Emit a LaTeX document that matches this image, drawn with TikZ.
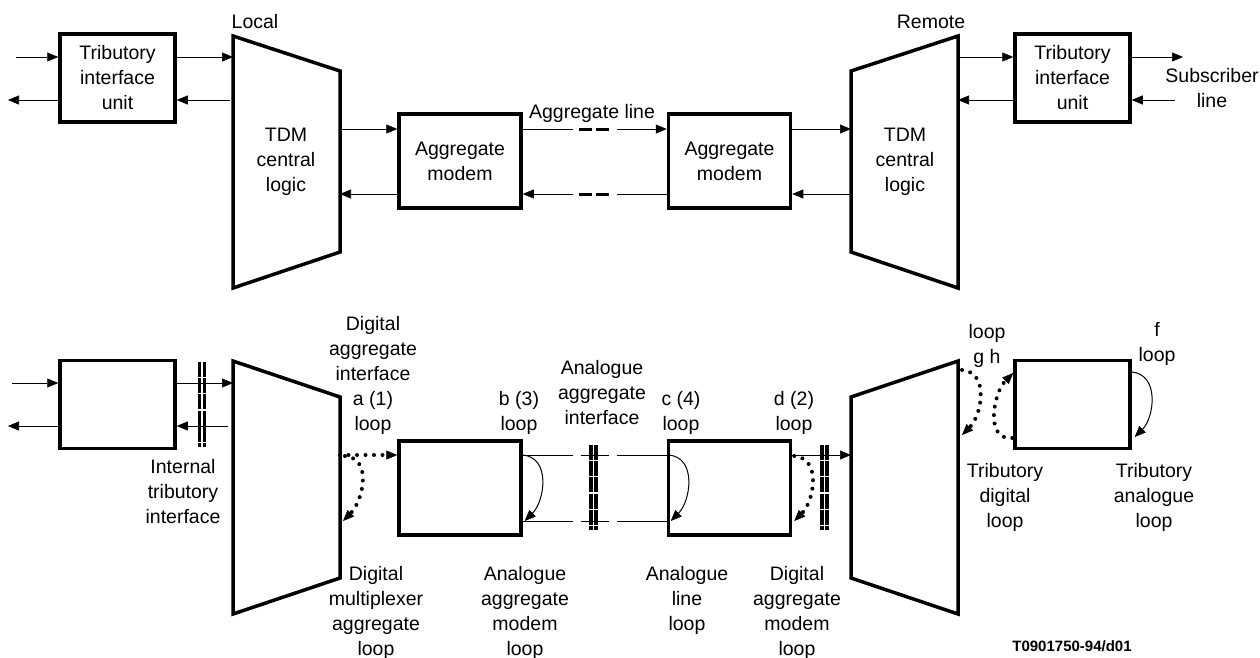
\documentclass[tikz,border=0pt]{standalone}
\usepackage{fontspec}
\setmainfont{Liberation Sans}
\usetikzlibrary{calc,arrows.meta}
\tikzset{
  >={Triangle[length=11pt,width=9pt,line width=0.6pt]},
  every node/.style={font=\fontsize{19.5}{25}\selectfont, align=center, inner sep=0pt},
  % --- nodes
  unit/.style  = {draw, line width=3.5pt, minimum width=115pt, minimum height=88pt},
  modem/.style = {unit, minimum width=122pt, minimum height=94pt},
  tag/.style   = {font=\fontsize{15}{18}\selectfont\bfseries},
  % --- shapes
  blk/.style   = {draw, line width=3.5pt, line join=miter},
  cut/.style   = {line width=3.4pt, dash pattern=on 15pt off 1.2pt},
  % --- edges
  ln/.style    = {line width=1pt},
  e/.style     = {->, ln},
  dots/.style  = {line width=4pt, line cap=round, dash pattern=on 0pt off 8.5pt},
  edot/.style  = {->, dots},
  gapdash/.style = {line width=3pt, dash pattern=on 13pt off 4pt},
  hook/.style  = {out=-5, in=45, looseness=1.1},
  hookback/.style = {out=185, in=225, looseness=1.1},
}
\begin{document}
\begin{tikzpicture}[x=1pt,y=-1pt]
\useasboundingbox (0,0) rectangle (1260,657);

% --- top row
\node[unit]  (tiuA)   at (117.5,78)  {Tributory\\interface\\unit};
\node[modem] (modemA) at (460,161)   {Aggregate\\modem};
\node[modem] (modemB) at (729.5,161) {Aggregate\\modem};
\node[unit]  (tiuB)   at (1072.5,78) {Tributory\\interface\\unit};

\draw[blk] (233,36) coordinate (ltdm-nw) -- (340,71) coordinate (ltdm-ne)
  -- (340,252) -- (233,288) -- cycle;
\draw[blk] (851,71) coordinate (rtdm-nw) -- (958,36) coordinate (rtdm-ne)
  -- (958,288) -- (851,252) -- cycle;
\node (ltdmtxt) at (286,162) {TDM\\central\\logic};
\node (rtdmtxt) at (905,162) {TDM\\central\\logic};
\node (local)  at (255,22) {Local};
\node (remote) at (931,22) {Remote};

\coordinate (inA)  at (16,57);
\coordinate (outA) at (8,100);
\coordinate (subOut) at (1183,57);
\coordinate (subIn)  at (1175,100);
\node (sub) at (1212,88.5) {Subscriber\\line};

\draw[e] (inA) -- ([yshift=21pt]tiuA.west);
\draw[e] ([yshift=-22pt]tiuA.west) -- (outA);
\draw[e] ([yshift=21pt]tiuA.east) -- ([yshift=21pt]tiuA.east -| ltdm-nw);
\draw[e] ([xshift=-3pt,yshift=-22pt]tiuA.east -| ltdm-nw) -- ([yshift=-22pt]tiuA.east);
\draw[e] ([yshift=32pt]modemA.west -| ltdm-ne) -- ([yshift=32pt]modemA.west);
\draw[e] ([yshift=-33pt]modemA.west) -- ([yshift=-33pt]modemA.west -| ltdm-ne);

% aggregate line, broken in the middle
\coordinate (mid) at ($(modemA.east)!.5!(modemB.west)$);
\draw[ln] ([yshift=32pt]modemA.east) -- ([xshift=-22pt,yshift=32pt]mid);
\draw[gapdash] ([xshift=-16pt,yshift=32pt]mid) -- ([xshift=15pt,yshift=32pt]mid);
\draw[e] ([xshift=22pt,yshift=32pt]mid) -- ([yshift=32pt]modemB.west);
\draw[ln] ([yshift=-33pt]modemB.west) -- ([xshift=22pt,yshift=-33pt]mid);
\draw[gapdash] ([xshift=-16pt,yshift=-33pt]mid) -- ([xshift=15pt,yshift=-33pt]mid);
\draw[e] ([xshift=-22pt,yshift=-33pt]mid) -- ([yshift=-33pt]modemA.east);
\node (aggline) at (592,113) {Aggregate line};

\draw[e] ([yshift=32pt]modemB.east) -- ([yshift=32pt]modemB.east -| rtdm-nw);
\draw[e] ([yshift=-33pt]modemB.east -| rtdm-nw) -- ([yshift=-33pt]modemB.east);
\draw[e] ([yshift=21pt]tiuB.west -| rtdm-ne) -- ([yshift=21pt]tiuB.west);
\draw[e] ([yshift=-22pt]tiuB.west) -- ([yshift=-22pt]tiuB.west -| rtdm-ne);
\draw[e] ([yshift=21pt]tiuB.east) -- (subOut);
\draw[e] (subIn) -- ([yshift=-22pt]tiuB.east);

% --- bottom row: loops
\node[unit]  (tiuC)   at (117.5,404.5)  {};
\node[modem] (modemC) at (460,488)      {};
\node[modem] (modemD) at (729.5,488)    {};
\node[unit]  (tiuD)   at (1072.5,404.5) {};

\draw[blk] (233,361) coordinate (ltdm2-nw) -- (340,397) coordinate (ltdm2-ne)
  -- (340,578) -- (233,614) -- cycle;
\draw[blk] (851,397) coordinate (rtdm2-nw) -- (958,361) coordinate (rtdm2-ne)
  -- (958,614) -- (851,578) -- cycle;

\foreach \cx/\ya/\yb in {202/362/447, 593.5/445/530, 824.5/445/530}{
  \draw[cut] (\cx-2.4,\ya) -- (\cx-2.4,\yb);
  \draw[cut] (\cx+2.4,\ya) -- (\cx+2.4,\yb);
}

\coordinate (inC)  at (12,383);
\coordinate (outC) at (8,426);
\draw[e] (inC) -- ([yshift=21.5pt]tiuC.west);
\draw[e] ([yshift=-21.5pt]tiuC.west) -- (outC);
\draw[e] ([yshift=21.5pt]tiuC.east) -- ([yshift=21.5pt]tiuC.east -| ltdm2-nw);
\draw[e] ([xshift=-5pt,yshift=-21.5pt]tiuC.east -| ltdm2-nw) -- ([yshift=-21.5pt]tiuC.east);

\draw[edot] ([yshift=33pt]modemC.west -| ltdm2-ne) -- ([yshift=33pt]modemC.west);
\draw[edot] ([xshift=5pt,yshift=32pt]modemC.west -| ltdm2-ne)
  to[hook] ([xshift=3pt,yshift=-33pt]modemC.west -| ltdm2-ne);

\coordinate (mid2) at ($(modemC.east)!.5!(modemD.west)$);
\foreach \dy in {33,-33}{
  \draw[ln] ([yshift=\dy pt]modemC.east) -- ([xshift=-22pt,yshift=\dy pt]mid2);
  \draw[ln] ([xshift=-14pt,yshift=\dy pt]mid2) -- ([xshift=14pt,yshift=\dy pt]mid2);
  \draw[ln] ([xshift=22pt,yshift=\dy pt]mid2) -- ([yshift=\dy pt]modemD.west);
}
\draw[e] ([yshift=33pt]modemC.east) to[hook] ([xshift=2pt,yshift=-33pt]modemC.east);
\draw[e] ([xshift=2pt,yshift=33pt]modemD.west) to[hook] ([xshift=4pt,yshift=-33pt]modemD.west);
\draw[edot] ([xshift=2pt,yshift=32pt]modemD.east) to[hook] ([xshift=2pt,yshift=-33pt]modemD.east);
\draw[e] ([yshift=33pt]modemD.east) -- ([yshift=33pt]modemD.east -| rtdm2-nw);

\draw[edot] ([xshift=4pt,yshift=34.5pt]tiuD.west -| rtdm2-ne)
  to[hook] ([xshift=4pt,yshift=-30.5pt]tiuD.west -| rtdm2-ne);
\draw[edot] ([xshift=-1pt,yshift=-33.5pt]tiuD.west) to[hookback] ([yshift=31.5pt]tiuD.west);
\draw[e] ([yshift=32.5pt]tiuD.east) to[hook] ([xshift=3pt,yshift=-32.5pt]tiuD.east);

% --- labels
\node (lblA) at (373,375)   {Digital\\aggregate\\interface\\a (1)\\loop};
\node (lblB) at (519,412.5) {b (3)\\loop};
\node (lblI) at (602,393)   {Analogue\\aggregate\\interface};
\node (lblC) at (681,412.5) {c (4)\\loop};
\node (lblD) at (794,412.5) {d (2)\\loop};
\node (lblG) at (987,345.5) {loop\\g h};
\node (lblF) at (1157,344)  {f\\loop};
\node (lblT) at (183,492)   {Internal\\tributory\\interface};
\node (lblM) at (376,612.5) {Digital\\multiplexer\\aggregate\\loop};
\node (lblAM) at (525,612.5) {Analogue\\aggregate\\modem\\loop};
\node (lblL) at (687,600)   {Analogue\\line\\loop};
\node (lblDM) at (797,612.5) {Digital\\aggregate\\modem\\loop};
\node (lblTD) at (1005,497) {Tributory\\digital\\loop};
\node (lblTA) at (1154,497) {Tributory\\analogue\\loop};
\node[tag] (ref) at (1072,646) {T0901750-94/d01};
\end{tikzpicture}
\end{document}
